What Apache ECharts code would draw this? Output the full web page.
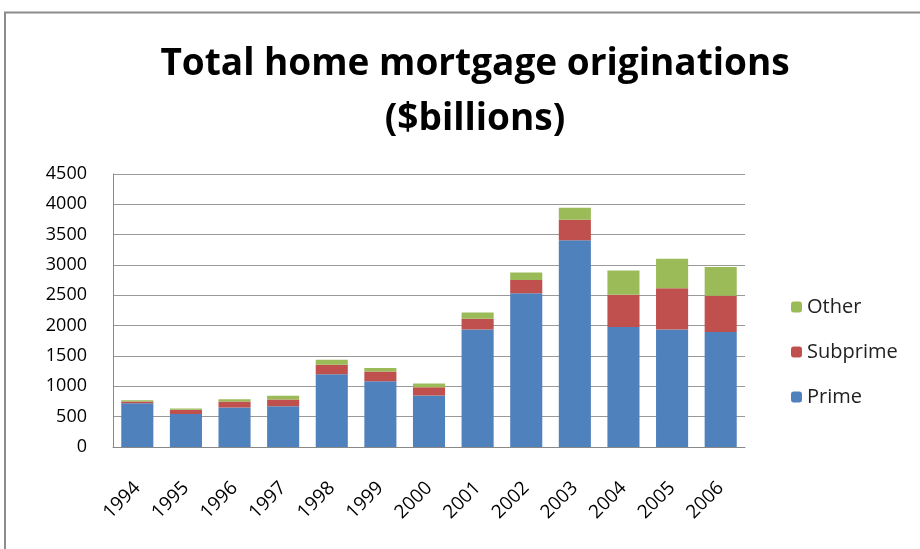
<!DOCTYPE html>
<html>
<head>
<meta charset="utf-8">
<script src="https://cdn.jsdelivr.net/npm/echarts@6/dist/echarts.min.js"></script>
<style>
  html, body { margin: 0; padding: 0; background: #fff; }
  #chart { width: 920px; height: 549px; }
</style>
</head>
<body>
<div id="chart"></div>
<script>
// data ($ billions)
const years = ['1994', '1995', '1996', '1997', '1998', '1999', '2000', '2001', '2002', '2003', '2004', '2005', '2006'];
const prime = [720, 544, 650, 670, 1200, 1083, 847, 1935, 2533, 3410, 1978, 1935, 1895];
const subprime = [28, 72, 100, 115, 155, 160, 137, 180, 220, 337, 533, 680, 600];
const other = [22, 17, 36, 60, 85, 60, 61, 100, 122, 197, 400, 490, 470];

const chart = echarts.init(document.getElementById('chart'));
const font = '"Open Sans", "Noto Sans", sans-serif';

const option = {
  animation: false,
  backgroundColor: '#fff',
  textStyle: { fontFamily: font },
  title: {
    text: 'Total home mortgage originations\n($billions)',
    left: 470,
    textAlign: 'center',
    top: 32,
    textStyle: {
      fontFamily: font,
      fontSize: 37,
      fontWeight: 'bold',
      color: '#000',
      lineHeight: 55
    }
  },
  // outer frame of the chart area
  graphic: [{
    type: 'rect',
    shape: { x: 5, y: 12.5, width: 1000, height: 1000 },
    style: { fill: 'none', stroke: '#8c8c8c', lineWidth: 2 },
    silent: true
  }],
  legend: {
    orient: 'vertical',
    left: 786,
    top: 292,
    itemWidth: 11,
    itemHeight: 11,
    itemGap: 25,
    data: ['Other', 'Subprime', 'Prime'],
    textStyle: { fontFamily: font, fontSize: 20, color: '#222', lineHeight: 18 }
  },
  grid: {
    left: 113,
    right: 175,
    top: 174,
    bottom: 102,
    containLabel: false
  },
  xAxis: {
    type: 'category',
    data: years,
    axisTick: { show: false },
    axisLine: { lineStyle: { color: '#888', width: 1 } },
    axisLabel: {
      rotate: 45,
      interval: 0,
      margin: 38,
      color: '#000',
      fontSize: 19,
      fontFamily: font
    }
  },
  yAxis: {
    type: 'value',
    min: 0,
    max: 4500,
    interval: 500,
    axisLine: { show: true, lineStyle: { color: '#888', width: 1 } },
    axisTick: { show: false },
    axisLabel: {
      margin: 26,
      color: '#000',
      fontSize: 18,
      fontFamily: font,
      formatter: v => String(v)
    },
    splitLine: { lineStyle: { color: '#999', width: 1 } }
  },
  series: [
    {
      name: 'Prime',
      type: 'bar',
      stack: 'total',
      barCategoryGap: '34%',
      itemStyle: { color: '#4F81BD' },
      data: prime
    },
    {
      name: 'Subprime',
      type: 'bar',
      stack: 'total',
      itemStyle: { color: '#C0504D' },
      data: subprime
    },
    {
      name: 'Other',
      type: 'bar',
      stack: 'total',
      itemStyle: { color: '#9BBB59' },
      data: other
    }
  ]
};

chart.setOption(option);
</script>
</body>
</html>
